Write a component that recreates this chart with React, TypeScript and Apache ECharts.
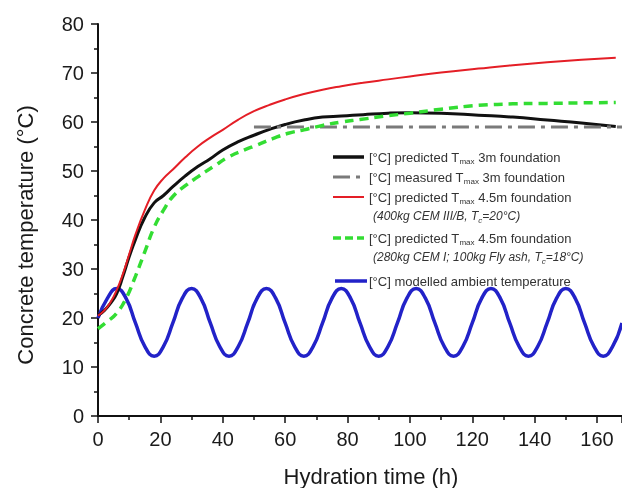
import React, { useEffect, useRef } from "react";
import * as echarts from "echarts";

// Predicted Tmax, 3 m foundation (black)
const blackX = [0, 2, 4, 6, 8, 10, 12, 15, 18, 21, 24, 28, 32, 36, 40, 45, 50, 55, 60, 66, 72, 78, 85, 93, 100, 110, 122, 133, 144, 155, 166];
const blackY = [20.5, 21.5, 23, 25, 28.5, 32.5, 36, 40.5, 43.5, 45, 46.8, 49, 50.9, 52.5, 54.3, 56, 57.3, 58.5, 59.5, 60.4, 61, 61.2, 61.5, 61.8, 61.9, 61.8, 61.4, 61, 60.4, 59.8, 59.1];

// Measured Tmax, 3 m foundation (grey dash-dot)
const measuredX = [50, 168];
const measuredY = [59, 59];

// Predicted Tmax, 4.5 m foundation, 400kg CEM III/B (red)
const redX = [0, 2, 4, 6, 8, 10, 12, 15, 18, 21, 24, 28, 32, 36, 40, 45, 50, 55, 60, 66, 72, 78, 85, 93, 100, 110, 122, 133, 144, 155, 166];
const redY = [20.5, 21.5, 23.2, 25.7, 29, 33, 37, 42, 46, 48.5, 50.3, 52.8, 55, 56.8, 58.4, 60.5, 62.2, 63.5, 64.6, 65.7, 66.6, 67.3, 68, 68.7, 69.3, 70.1, 70.9, 71.6, 72.2, 72.7, 73.1];

// Predicted Tmax, 4.5 m foundation, 280kg CEM I + fly ash (green dashed)
const greenX = [0, 3, 6, 9, 12, 15, 18, 21, 24, 28, 32, 37, 42, 47, 51, 56, 61, 66, 72, 78, 84, 92, 100, 110, 122, 133, 144, 155, 166];
const greenY = [17.8, 19.3, 21, 24, 28.5, 33.5, 38.5, 42, 44.8, 47, 48.8, 50.9, 52.9, 54.3, 55.3, 56.6, 57.7, 58.4, 59.3, 60, 60.5, 61.2, 61.8, 62.6, 63.4, 63.7, 63.8, 63.9, 64];

// Modelled ambient temperature (blue)
const ambientX = [0, 3, 6, 9, 12, 15, 18, 21, 24, 27, 30, 33, 36, 39, 42, 45, 48, 51, 54, 57, 60, 63, 66, 69, 72, 75, 78, 81, 84, 87, 90, 93, 96, 99, 102, 105, 108, 111, 114, 117, 120, 123, 126, 129, 132, 135, 138, 141, 144, 147, 150, 153, 156, 159, 162, 165, 168];
const ambientY = [20, 24, 26, 24, 19, 14.2, 12.2, 14.2, 19, 24, 26, 24, 19, 14.2, 12.2, 14.2, 19, 24, 26, 24, 19, 14.2, 12.2, 14.2, 19, 24, 26, 24, 19, 14.2, 12.2, 14.2, 19, 24, 26, 24, 19, 14.2, 12.2, 14.2, 19, 24, 26, 24, 19, 14.2, 12.2, 14.2, 19, 24, 26, 24, 19, 14.2, 12.2, 14.2, 19];

const legendLines = [
  "[°C] predicted T{s|max} 3m foundation",
  "[°C] measured T{s|max} 3m foundation",
  "[°C] predicted T{s|max} 4.5m foundation",
  "(400kg CEM III/B, T{si|c}=20°C)",
  "[°C] predicted T{s|max} 4.5m foundation",
  "(280kg CEM I; 100kg Fly ash, T{si|c}=18°C)",
  "[°C] modelled ambient temperature",
];

const zip = (xs: number[], ys: number[]) => xs.map((x, i) => [x, ys[i]]);

const FONT = "'Liberation Sans', Arial, sans-serif";

export default function App() {
  const ref = useRef<HTMLDivElement>(null);
  useEffect(() => {
    const chart = echarts.init(ref.current!, null, { renderer: "svg" });
    const legendY = [157, 177, 197, 216, 238, 257, 281];
    const legendX = [369, 369, 369, 373, 369, 373, 369];
    const italic = [false, false, false, true, false, true, false];
    const rich = {
      s: { fontSize: 8, fontFamily: FONT, fill: "#333", verticalAlign: "bottom", lineHeight: 8 },
      si: { fontSize: 8, fontFamily: FONT, fontStyle: "italic", fill: "#333", verticalAlign: "bottom", lineHeight: 8 },
    };
    const texts = legendLines.map((t, i) => ({
      type: "text",
      x: legendX[i],
      y: legendY[i],
      style: {
        text: t,
        fontSize: italic[i] ? 12 : 13,
        fontFamily: FONT,
        fontStyle: italic[i] ? "italic" : "normal",
        fill: "#333",
        lineHeight: 16,
        textVerticalAlign: "middle",
        rich,
      },
    }));
    const option = {
      animation: false,
      grid: { left: 98, top: 24, width: 525, height: 392 },
      xAxis: {
        type: "value",
        min: 0,
        max: 168,
        interval: 20,
        axisLine: { show: true, lineStyle: { color: "#111", width: 2 } },
        axisTick: { show: true, length: 7, lineStyle: { color: "#111", width: 1.5 } },
        minorTick: { show: true, splitNumber: 2, length: 4, lineStyle: { color: "#111", width: 1.5 } },
        splitLine: { show: false },
        axisLabel: { fontSize: 20, fontFamily: FONT, color: "#1a1a1a", margin: 13, showMaxLabel: false },
      },
      yAxis: {
        type: "value",
        min: 0,
        max: 80,
        interval: 10,
        axisLine: { show: true, lineStyle: { color: "#111", width: 2 } },
        axisTick: { show: true, length: 7, lineStyle: { color: "#111", width: 1.5 } },
        minorTick: { show: true, splitNumber: 2, length: 4, lineStyle: { color: "#111", width: 1.5 } },
        splitLine: { show: false },
        axisLabel: { fontSize: 20, fontFamily: FONT, color: "#1a1a1a", margin: 14 },
      },
      series: [
        {
          name: "ambient",
          type: "line",
          data: zip(ambientX, ambientY),
          smooth: true,
          showSymbol: false,
          lineStyle: { color: "#2222c8", width: 3.5 },
        },
        {
          name: "pred3m",
          type: "line",
          data: zip(blackX, blackY),
          smooth: true,
          showSymbol: false,
          lineStyle: { color: "#111", width: 3 },
        },
        {
          name: "meas3m",
          type: "line",
          data: zip(measuredX, measuredY),
          showSymbol: false,
          lineStyle: { color: "#7a7a7a", width: 3, type: [17, 6, 4, 6] },
        },
        {
          name: "green",
          type: "line",
          data: zip(greenX, greenY),
          smooth: true,
          showSymbol: false,
          lineStyle: { color: "#33dd33", width: 3.5, type: [9, 6] },
        },
        {
          name: "red",
          type: "line",
          data: zip(redX, redY),
          smooth: true,
          showSymbol: false,
          lineStyle: { color: "#e41e26", width: 2 },
        },
      ],
      graphic: [
        {
          type: "text",
          x: 25,
          y: 235,
          rotation: Math.PI / 2,
          style: {
            text: "Concrete temperature (°C)",
            fontSize: 22,
            fontFamily: FONT,
            fill: "#1a1a1a",
            textAlign: "center",
            textVerticalAlign: "middle",
          },
        },
        {
          type: "text",
          x: 371,
          y: 476,
          style: {
            text: "Hydration time (h)",
            fontSize: 22,
            fontFamily: FONT,
            fill: "#1a1a1a",
            textAlign: "center",
            textVerticalAlign: "middle",
          },
        },
        { type: "line", shape: { x1: 333, y1: 157, x2: 364, y2: 157 }, style: { stroke: "#111", lineWidth: 3.5 } },
        { type: "line", shape: { x1: 333, y1: 177, x2: 362, y2: 177 }, style: { stroke: "#7a7a7a", lineWidth: 3, lineDash: [17, 6, 4, 10] } },
        { type: "line", shape: { x1: 333, y1: 197, x2: 364, y2: 197 }, style: { stroke: "#e41e26", lineWidth: 2 } },
        { type: "line", shape: { x1: 333, y1: 238, x2: 364, y2: 238 }, style: { stroke: "#33dd33", lineWidth: 3.5, lineDash: [8, 4] } },
        { type: "line", shape: { x1: 335, y1: 281, x2: 367, y2: 281 }, style: { stroke: "#2222c8", lineWidth: 3.5 } },
        ...texts,
      ],
    };
    chart.setOption(option as any);
    return () => chart.dispose();
  }, []);
  return <div ref={ref} style={{ position: "fixed", left: 0, top: 0, width: 622, height: 488 }} />;
}
